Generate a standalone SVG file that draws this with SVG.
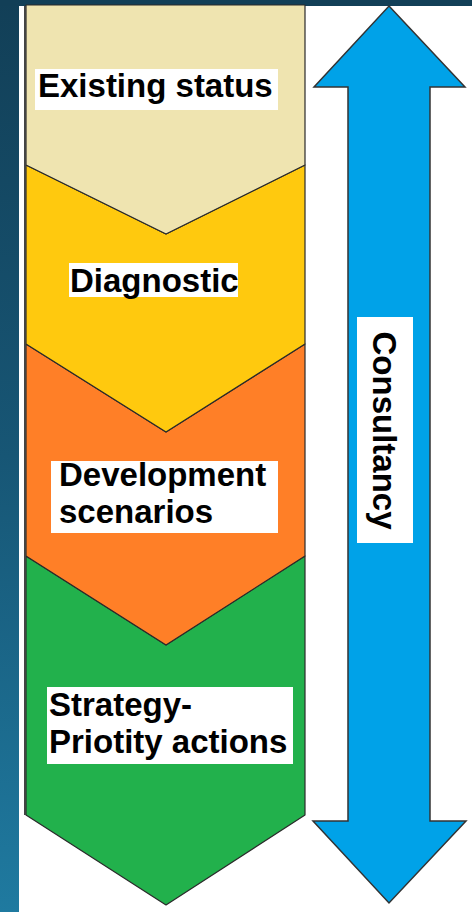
<svg xmlns="http://www.w3.org/2000/svg" width="472" height="912" viewBox="0 0 472 912">
<defs>
<linearGradient id="bg" x1="0" y1="0" x2="0" y2="1">
<stop offset="0" stop-color="#123f57"/>
<stop offset="0.5" stop-color="#175675"/>
<stop offset="1" stop-color="#1f7aa0"/>
</linearGradient>
<style>
.chev{stroke:#2a2a2a;stroke-width:1.2;stroke-linejoin:round}
.lbl{fill:#ffffff}
.t{font-family:"Liberation Sans",Arial,sans-serif;font-weight:bold;font-size:33px;fill:#000000}
.arrow{fill:#00a2e8;stroke:#333333;stroke-width:1.5}
</style>
</defs>
<rect x="0" y="0" width="472" height="912" fill="#ffffff"/>
<rect x="0" y="0" width="19" height="912" fill="url(#bg)"/>
<rect x="0" y="0" width="472" height="6" fill="#123f57"/>

<g id="node-strategy">
<polygon class="chev" fill="#22b14c" points="26,556 166,645 305,556 305,815 166,905 26,815"/>
<rect class="lbl" x="47" y="687" width="246" height="77"/>
<text class="t" x="49" y="716">Strategy-</text>
<text class="t" x="49" y="753">Priotity actions</text>
</g>
<g id="node-development">
<polygon class="chev" fill="#ff7f27" points="26,344 166,432 305,344 305,556 166,645 26,556"/>
<rect class="lbl" x="51" y="461" width="227" height="72"/>
<text class="t" x="59" y="486">Development</text>
<text class="t" x="59" y="523">scenarios</text>
</g>
<g id="node-diagnostic">
<polygon class="chev" fill="#ffc90e" points="26,165 166,234 305,165 305,344 166,432 26,344"/>
<rect class="lbl" x="69" y="263" width="169" height="34"/>
<text class="t" x="70" y="292">Diagnostic</text>
</g>
<g id="node-existing">
<polygon class="chev" fill="#efe4b0" points="26,5 305,5 305,165 166,234 26,165"/>
<rect class="lbl" x="35" y="69" width="243" height="41"/>
<text class="t" x="38" y="97">Existing status</text>
</g>
<line x1="25" y1="6" x2="25" y2="815" stroke="#444444" stroke-width="2"/>

<g id="connectors">
<g id="consultancy-arrow">
<polygon class="arrow" points="389,6 465,87 430,87 430,821 466,821 389,903 313,821 348,821 348,87 314,87"/>
<rect class="lbl" x="357" y="317" width="56" height="226"/>
<text class="t" transform="translate(373,430.5) rotate(90)" text-anchor="middle">Consultancy</text>
</g>
</g>
</svg>
